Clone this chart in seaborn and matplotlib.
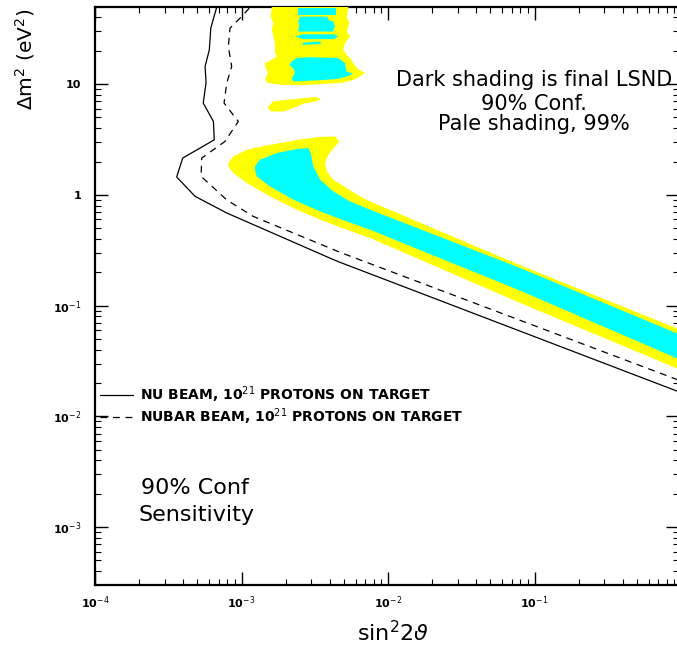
import matplotlib
matplotlib.use("Agg")
import matplotlib.pyplot as plt
import seaborn as sns
import numpy as np
from matplotlib.ticker import FixedLocator, FuncFormatter, NullFormatter

# ---------------- data ----------------
# Sensitivity curves (90% CL)
nu_x = [6.78e-4, 6.17e-4, 6.03e-4, 5.64e-4, 5.73e-4, 5.48e-4, 6.43e-4, 6.52e-4,
        3.97e-4, 3.61e-4, 4.82e-4, 7.93e-4, 4.24e-3, 4.70e-3, 0.94]
nu_y = [49.8, 32.0, 20.4, 14.4, 10.3, 6.75, 4.6, 3.14,
        2.15, 1.45, 0.97, 0.686, 0.26, 0.246, 0.0169]

nubar_x = [1.13e-3, 9.77e-4, 8.35e-4, 8.13e-4, 8.57e-4, 7.93e-4, 7.60e-4, 9.51e-4,
           7.70e-4, 5.35e-4, 5.30e-4, 7.93e-4, 1.20e-3, 4.70e-3, 0.94]
nubar_y = [48.5, 39.4, 32.0, 21.8, 14.4, 10.2, 6.75, 4.6,
           3.03, 2.15, 1.47, 0.90, 0.64, 0.303, 0.0215]

# LSND 99% (pale) regions
yel_top_x = [1.58e-3, 5.36e-3, 5.36e-3, 5.22e-3, 5.44e-3, 5.22e-3, 5.50e-3, 5.08e-3,
             4.95e-3, 5.22e-3, 5.50e-3, 5.79e-3, 6.11e-3, 6.97e-3, 6.44e-3, 5.79e-3,
             4.95e-3, 3.82e-3, 2.51e-3, 1.83e-3, 1.49e-3, 1.45e-3, 1.52e-3, 1.45e-3,
             1.45e-3, 1.61e-3, 1.74e-3, 1.69e-3, 1.69e-3, 1.65e-3, 1.61e-3, 1.65e-3,
             1.58e-3, 1.61e-3]
yel_top_y = [60.0, 60.0, 48.5, 40.7, 35.5, 29.8, 26.9, 23.4,
             20.4, 18.4, 17.2, 15.5, 13.9, 12.6, 11.7, 10.9,
             10.3, 10.06, 9.79, 9.86, 10.3, 11.3, 12.6, 14.4,
             15.5, 16.6, 17.7, 19.7, 23.4, 26.9, 30.9, 35.5,
             40.7, 48.5]

yel_isl_x = [1.52e-3, 1.65e-3, 2.04e-3, 2.64e-3, 3.26e-3, 3.47e-3, 3.18e-3, 2.64e-3,
             2.26e-3, 1.93e-3, 1.61e-3, 1.52e-3]
yel_isl_y = [6.28, 6.97, 7.22, 7.48, 7.63, 7.32, 6.97, 6.64,
             6.07, 5.66, 5.66, 5.95]

yel_ban_x = [8.13e-4, 8.79e-4, 1.085e-3, 1.565e-3, 2.64e-3, 3.44e-3, 4.35e-3, 4.66e-3,
             4.35e-3, 3.91e-3, 3.72e-3, 3.82e-3, 4.23e-3, 5.22e-3, 6.44e-3, 7.53e-3,
             7.96e-2, 0.97, 0.97, 7.96e-2, 7.53e-3, 5.22e-3, 3.44e-3, 2.38e-3,
             1.565e-3, 1.085e-3, 8.79e-4, 8.13e-4]
yel_ban_y = [1.938, 2.22, 2.555, 2.835, 3.19, 3.33, 3.37, 3.035,
             2.735, 2.30, 1.938, 1.627, 1.37, 1.153, 0.968, 0.873,
             0.232, 0.0612, 0.0266, 0.1058, 0.408, 0.485, 0.597, 0.735,
             0.968, 1.279, 1.574, 1.806]

# LSND 90% (dark) regions
cy_a_x = [2.42e-3, 4.42e-3, 4.42e-3, 2.42e-3]
cy_a_y = [48.3, 48.3, 42.2, 42.2]
cy_b_x = [2.51e-3, 3.86e-3, 3.92e-3, 4.23e-3, 4.35e-3, 4.19e-3, 2.44e-3, 2.48e-3, 2.44e-3]
cy_b_y = [40.7, 40.7, 38.0, 36.7, 33.1, 29.8, 29.8, 34.3, 36.7]
cy_c_x = [2.32e-3, 2.64e-3, 4.23e-3, 4.58e-3, 4.23e-3, 2.64e-3]
cy_c_y = [26.9, 28.2, 28.2, 26.9, 25.5, 25.5]
cy_d_x = [2.62e-3, 3.47e-3, 3.47e-3, 2.62e-3]
cy_d_y = [23.7, 24.2, 23.0, 22.6]
cy_e_x = [2.38e-3, 2.86e-3, 4.58e-3, 5.08e-3, 5.22e-3, 5.79e-3, 5.22e-3, 4.47e-3,
          3.26e-3, 2.26e-3, 2.20e-3, 2.32e-3, 2.26e-3, 2.12e-3, 2.20e-3]
cy_e_y = [17.2, 17.5, 17.2, 15.5, 13.0, 12.4, 11.7, 11.1,
          10.8, 10.55, 11.3, 12.6, 13.9, 14.9, 16.0]
cy_ban_x = [1.236e-3, 1.336e-3, 1.74e-3, 2.38e-3, 2.86e-3, 2.97e-3, 3.09e-3, 3.44e-3,
            4.23e-3, 5.50e-3, 7.53e-3, 7.96e-2, 0.97, 0.97, 7.96e-2, 7.53e-3,
            5.22e-3, 3.44e-3, 2.26e-3, 1.565e-3, 1.27e-3, 1.236e-3]
cy_ban_y = [1.806, 2.075, 2.385, 2.592, 2.646, 2.385, 1.806, 1.37,
            1.074, 0.873, 0.735, 0.2188, 0.0551, 0.0328, 0.1366, 0.485,
            0.576, 0.709, 0.904, 1.192, 1.467, 1.686]

x_major = [1e-4, 1e-3, 1e-2, 1e-1]
y_major = [1e-3, 1e-2, 1e-1, 1, 10]

labels = ["NU BEAM, 10$^{21}$ PROTONS ON TARGET",
          "NUBAR BEAM, 10$^{21}$ PROTONS ON TARGET"]

# ---------------- plotting ----------------
sns.set_theme(style="ticks")
plt.rcParams['font.family'] = ['DejaVu Sans']
plt.rcParams['axes.linewidth'] = 1.6
plt.rcParams['text.color'] = 'black'
plt.rcParams['axes.labelcolor'] = 'black'
plt.rcParams['xtick.color'] = 'black'
plt.rcParams['ytick.color'] = 'black'
plt.rcParams['axes.edgecolor'] = 'black'

fig = plt.figure(figsize=(6.77, 6.47), dpi=100)
fig.patch.set_facecolor("white")
ax = fig.add_axes([95/677, 62/647, 584/677, 578.3/647])
ax.set_facecolor("white")
ax.set_xscale("log")
ax.set_yscale("log")
ax.set_xlim(1e-4, 0.969)
ax.set_ylim(3e-4, 50)

yellow = "#ffff00"
cyan = "#00ffff"
for xs, ys in [(yel_top_x, yel_top_y), (yel_isl_x, yel_isl_y), (yel_ban_x, yel_ban_y)]:
    ax.fill(xs, ys, color=yellow, lw=0, zorder=2.6)
for xs, ys in [(cy_a_x, cy_a_y), (cy_b_x, cy_b_y), (cy_c_x, cy_c_y),
               (cy_d_x, cy_d_y), (cy_e_x, cy_e_y), (cy_ban_x, cy_ban_y)]:
    ax.fill(xs, ys, color=cyan, lw=0, zorder=2.7)

sns.lineplot(x=nu_x, y=nu_y, sort=False, estimator=None, color="black",
             lw=0.9, ax=ax, zorder=2)
sns.lineplot(x=nubar_x, y=nubar_y, sort=False, estimator=None, color="black",
             lw=0.9, ls=(0, (5.5, 4.5)), ax=ax, zorder=2)
if ax.get_legend() is not None:
    ax.get_legend().remove()

handles = ax.get_lines()[:2]
leg = ax.legend(handles, labels, loc="upper left",
                bbox_to_anchor=(5/584, (585-384)/578.3), frameon=False,
                prop={"size": 10, "weight": "bold"}, handlelength=2.4,
                handletextpad=0.45, labelspacing=0.15, borderpad=0,
                borderaxespad=0)

# ticks
ax.xaxis.set_major_locator(FixedLocator(x_major))
ax.yaxis.set_major_locator(FixedLocator(y_major))
ax.xaxis.set_minor_locator(matplotlib.ticker.LogLocator(base=10, subs=np.arange(2, 10), numticks=20))
ax.yaxis.set_minor_locator(matplotlib.ticker.LogLocator(base=10, subs=np.arange(2, 10), numticks=20))
ax.xaxis.set_minor_formatter(NullFormatter())
ax.yaxis.set_minor_formatter(NullFormatter())

def fmt(v, pos):
    e = int(round(np.log10(v)))
    if e == 0:
        return "1"
    if e == 1:
        return "10"
    return r"10$^{%d}$" % e

ax.xaxis.set_major_formatter(FuncFormatter(fmt))
ax.yaxis.set_major_formatter(FuncFormatter(fmt))
ax.tick_params(which="both", direction="in", top=True, right=True, colors="black")
ax.tick_params(which="major", length=9.5, width=1.0, labelsize=8)
ax.tick_params(which="minor", length=4.5, width=0.8)
ax.tick_params(axis="x", which="major", pad=7)
ax.tick_params(axis="y", which="major", pad=10)
for lab in ax.get_xticklabels() + ax.get_yticklabels():
    lab.set_fontweight("bold")

ax.set_xlabel(r"sin$^{2}$2$\vartheta$", fontsize=16)
ax.xaxis.set_label_coords((393-95)/584, (585-633)/578.3)
ax.xaxis.label.set_va("center")
ax.set_ylabel(r"$\Delta$m$^{2}$ (eV$^{2}$)", fontsize=14.5)
ax.yaxis.set_label_coords((25-95)/584, (585-59)/578.3)
ax.yaxis.label.set_va("center")
ax.yaxis.label.set_ha("center")

# annotations
def axpos(px, py):
    return ((px-95)/584, (585-py)/578.3)

ax.text(*axpos(534, 80), "Dark shading is final LSND", transform=ax.transAxes,
        ha="center", va="center", fontsize=15)
ax.text(*axpos(534, 104), "90% Conf.", transform=ax.transAxes,
        ha="center", va="center", fontsize=15)
ax.text(*axpos(534, 124), "Pale shading, 99%", transform=ax.transAxes,
        ha="center", va="center", fontsize=15)
ax.text(*axpos(141, 488), "90% Conf", transform=ax.transAxes,
        ha="left", va="center", fontsize=16)
ax.text(*axpos(139, 515), "Sensitivity", transform=ax.transAxes,
        ha="left", va="center", fontsize=16)

fig.savefig("out.png", dpi=100, facecolor="white")
